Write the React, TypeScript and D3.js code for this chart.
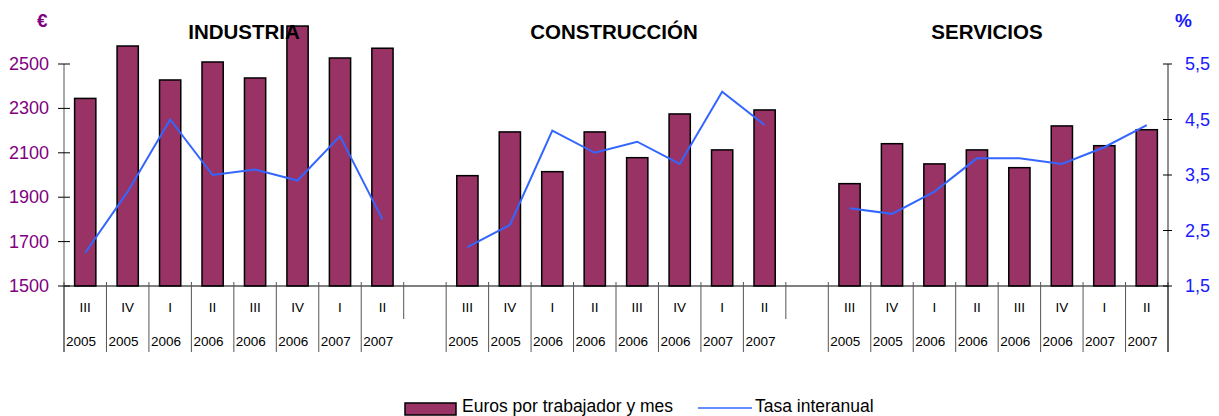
import React from 'react';
import * as d3 from 'd3';

// sectors and quarters (one bar per quarter)
const sectors = ['INDUSTRIA', 'CONSTRUCCIÓN', 'SERVICIOS'];
const quarters = ['III', 'IV', 'I', 'II', 'III', 'IV', 'I', 'II'];
const years = ['2005', '2005', '2006', '2006', '2006', '2006', '2007', '2007'];

// Euros por trabajador y mes
const eurosIndustria = [2345, 2581, 2428, 2509, 2437, 2671, 2527, 2571];
const eurosConstruccion = [1997, 2194, 2015, 2194, 2078, 2275, 2113, 2293];
const eurosServicios = [1961, 2141, 2050, 2113, 2033, 2221, 2132, 2204];

// Tasa interanual (%)
const tasaIndustria = [2.1, 3.2, 4.5, 3.5, 3.6, 3.4, 4.2, 2.7];
const tasaConstruccion = [2.2, 2.6, 4.3, 3.9, 4.1, 3.7, 5.0, 4.4];
const tasaServicios = [2.9, 2.8, 3.2, 3.8, 3.8, 3.7, 4.0, 4.4];

const leftTicks = [1500, 1700, 1900, 2100, 2300, 2500];
const rightTicks = [1.5, 2.5, 3.5, 4.5, 5.5];

const euros = [eurosIndustria, eurosConstruccion, eurosServicios];
const tasas = [tasaIndustria, tasaConstruccion, tasaServicios];

const W = 1219;
const H = 416;
const FONT = '"Liberation Sans", Arial, sans-serif';
const BAR = '#993366';
const LINE = '#3366ff';

export default function App() {
  // slots: 8 per sector plus one blank category between sectors
  const slots: string[] = [];
  sectors.forEach((s, si) => {
    quarters.forEach((_, i) => slots.push(`${s}-${i}`));
    if (si < sectors.length - 1) slots.push(`gap-${si}`);
  });

  const x = d3.scaleBand<string>().domain(slots).range([64, 1168]).padding(0);
  const yL = d3.scaleLinear().domain([1500, 2500]).range([286, 64]);
  const yR = d3.scaleLinear().domain([1.5, 5.5]).range([286, 64]);
  const bw = x.bandwidth();
  const base = yL(1500);

  // boundary lines; the left edge of a blank slot only spans the quarter row
  const boundaries = slots.map(k => x(k)!).concat([x.range()[1]]);
  const isShort = (i: number) => i < slots.length && slots[i].startsWith('gap');

  const titleX = [244, 614, 987];

  return (
    <svg width={W} height={H} style={{ position: 'absolute', left: 0, top: 0, fontFamily: FONT }}>
      <rect width={W} height={H} fill="#fff" />

      {/* bars */}
      {sectors.map((s, si) => euros[si].map((v, i) => {
        const k = `${s}-${i}`;
        return (
          <rect key={k} x={x(k)! + bw * 0.25} y={yL(v)} width={bw * 0.5} height={base - yL(v)}
            fill={BAR} stroke="#000" strokeWidth={1.5} />
        );
      }))}

      {/* lines */}
      {sectors.map((s, si) => {
        const l = d3.line<number>()
          .x((_, i) => x(`${s}-${i}`)! + bw / 2)
          .y(d => yR(d));
        return <path key={s} d={l(tasas[si]) || ''} fill="none" stroke={LINE} strokeWidth={2} />;
      })}

      {/* category axis */}
      <line x1={64} x2={1168} y1={base} y2={base} stroke="#000" strokeWidth={1} />
      {boundaries.map((bx, i) => (
        <line key={i} x1={bx} x2={bx} y1={base - 4} y2={isShort(i) ? 319 : 352}
          stroke="#555" strokeWidth={1} />
      ))}
      {sectors.map(s => quarters.map((q, i) => {
        const k = `${s}-${i}`;
        return (
          <g key={k}>
            <text x={x(k)! + bw / 2} y={312} textAnchor="middle" fontSize={13.5} fill="#000">{q}</text>
            <text x={x(k)! + 2} y={346} fontSize={13.5} fill="#000">{years[i]}</text>
          </g>
        );
      }))}

      {/* left axis */}
      <line x1={64} x2={64} y1={64} y2={352} stroke="#555" strokeWidth={1} />
      {leftTicks.map(t => (
        <g key={t}>
          <line x1={58} x2={70} y1={yL(t)} y2={yL(t)} stroke="#000" />
          <text x={49} y={yL(t) + 6} textAnchor="end" fontSize={18} fill="#800080">{t}</text>
        </g>
      ))}
      <text x={37} y={27} fontSize={19} fontWeight="bold" fill="#800080">€</text>

      {/* right axis */}
      <line x1={1168} x2={1168} y1={64} y2={352} stroke="#222" strokeWidth={1} />
      {rightTicks.map(t => (
        <g key={t}>
          <line x1={1163} x2={1172} y1={yR(t)} y2={yR(t)} stroke="#000" />
          <text x={1185} y={yR(t) + 6} fontSize={18} fill="#1a1aff">{d3.format('.1f')(t).replace('.', ',')}</text>
        </g>
      ))}
      <text x={1175} y={27} fontSize={19} fontWeight="bold" fill="#1a1aff">%</text>

      {/* titles */}
      {sectors.map((s, si) => (
        <text key={s} x={titleX[si]} y={39} textAnchor="middle" fontSize={20.5} fontWeight="bold" fill="#000">{s}</text>
      ))}

      {/* legend */}
      <rect x={405} y={403} width={51} height={12} fill={BAR} stroke="#000" strokeWidth={1.5} />
      <text x={462} y={412} fontSize={17.5} fill="#000">Euros por trabajador y mes</text>
      <line x1={698} x2={752} y1={408} y2={408} stroke={LINE} strokeWidth={1.5} />
      <text x={755} y={412} fontSize={17.5} fill="#000">Tasa interanual</text>
    </svg>
  );
}
